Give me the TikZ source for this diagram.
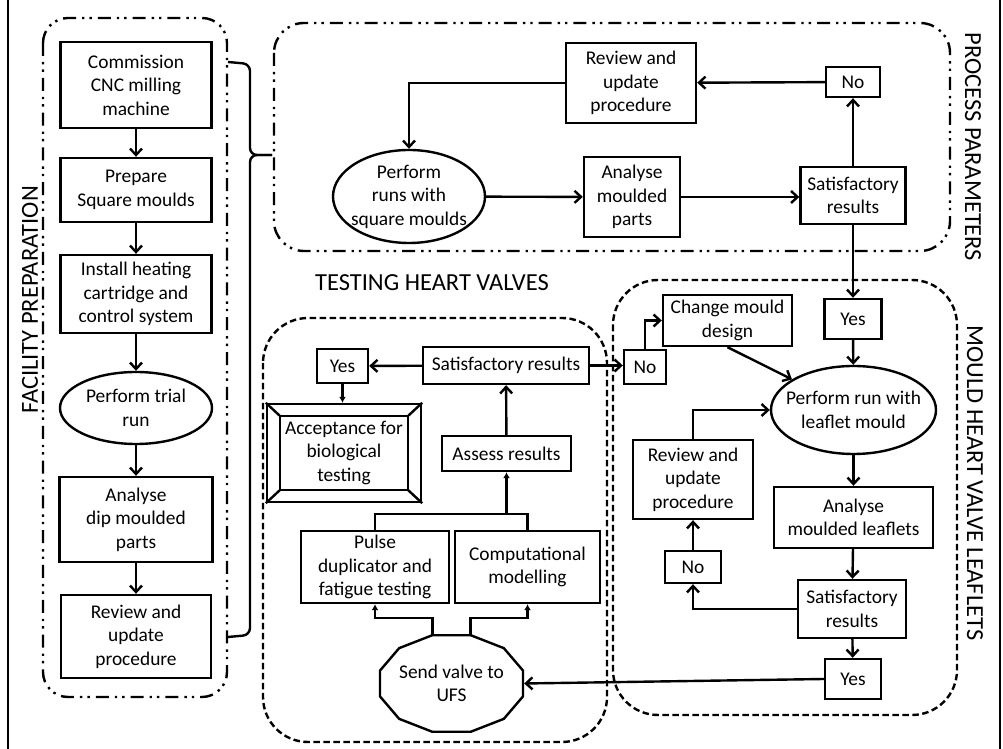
\documentclass[tikz,border=0pt]{standalone}
\usepackage{fontspec}
\setmainfont{Carlito}
\usetikzlibrary{arrows.meta,shapes.geometric,calc}

\begin{document}
\begin{tikzpicture}[>={Straight Barb[length=6.5bp,width=12bp]},line width=2.4bp,
  box/.style={draw,rectangle,align=center,inner sep=0pt,font=\fontsize{19.4bp}{23.5bp}\selectfont},
  oval/.style={draw,ellipse,align=center,inner xsep=-15bp,inner ysep=-10bp,font=\fontsize{19.4bp}{23.5bp}\selectfont},
  side/.style={font=\fontsize{24.5bp}{29bp}\selectfont},
  dotframe/.style={rounded corners=#1,dash pattern=on 13bp off 6bp on 2.4bp off 5bp on 2.4bp off 6bp},
  dashframe/.style={rounded corners=#1,dash pattern=on 6.5bp off 3.5bp},
  tip/.style={-{Latex[length=6bp,width=7bp]}}]

\pgfsetcolor{black}
\useasboundingbox (0bp,0bp) rectangle (1003bp,749bp);

% page rules
\draw (8bp,0bp) -- (8bp,749bp);
\draw (1000bp,0bp) -- (1000bp,749bp);

% Frames
\draw[dotframe=25bp] (43bp,731bp) rectangle (227bp,52bp);
\draw[dotframe=30bp] (274bp,726bp) rectangle (950bp,498bp);
\draw[dashframe=45bp] (263bp,431bp) rectangle (607bp,7bp);
\draw[dashframe=45bp] (613bp,469bp) rectangle (957bp,34bp);

% Brace: facility -> process
\draw[rounded corners=7bp] (228bp,687bp) -- (250bp,685bp) -- (250bp,594bp) -- (272bp,594bp);
\draw[rounded corners=7bp] (272bp,594bp) -- (250bp,594bp) -- (250bp,114bp) -- (228bp,112bp);

% Labels
\node[side,rotate=90] (labfac) at (30bp,449bp) {FACILITY PREPARATION};
\node[side,rotate=-90] (labproc) at (973bp,602bp) {PROCESS PARAMETERS};
\node[side,rotate=-90] (labmould) at (975bp,266bp) {MOULD HEART VALVE LEAFLETS};
\node[side] (labtest) at (432bp,466bp) {TESTING HEART VALVES};

% Node: facility column
\node[box,minimum width=151bp,minimum height=86bp] (comm) at (136bp,664bp) {Commission\\CNC milling\\machine};
\node[box,minimum width=151bp,minimum height=64bp] (prep) at (136bp,559bp) {Prepare\\Square moulds};
\node[box,minimum width=151bp,minimum height=78bp] (inst) at (136bp,455bp) {Install heating\\cartridge and\\control system};
\node[oval,minimum width=152bp,minimum height=72bp] (trial) at (136bp,341bp) {Perform trial\\run};
\node[box,minimum width=153bp,minimum height=85bp] (anal1) at (136bp,229.5bp) {Analyse\\dip moulded\\parts};
\node[box,minimum width=150bp,minimum height=83bp] (rev1) at (136bp,112.5bp) {Review and\\update\\procedure};

% Edge: facility column
\draw[->] (comm) -- (prep);
\draw[->] (prep) -- (inst);
\draw[->] (inst) -- (trial);
\draw[->] (trial) -- (anal1);
\draw[->] (anal1) -- (rev1);

% Node: process parameters
\node[box,minimum width=130bp,minimum height=80bp] (rev2) at (631bp,666bp) {Review and\\update\\procedure};
\node[box,minimum width=54bp,minimum height=30bp] (no1) at (853bp,667bp) {No};
\node[oval,minimum width=152bp,minimum height=93bp] (runs) at (409bp,552.5bp) {Perform\\runs with\\square moulds};
\node[box,minimum width=96bp,minimum height=80bp] (anal2) at (632bp,552bp) {Analyse\\moulded\\parts};
\node[box,minimum width=105bp,minimum height=57bp] (sat1) at (853bp,553.5bp) {Satisfactory\\results};

% Edge: process parameters
\draw[->] (rev2.west) -| (runs.north);
\draw[->] (runs) -- (anal2);
\draw[->] (anal2.east) -- (anal2.east -| sat1.west);
\draw[->] (sat1) -- (no1);
\draw[->] (no1) -- (rev2);

% Node: testing heart valves
\node[box,minimum width=51bp,minimum height=34bp] (yes2) at (342.5bp,383bp) {Yes};
\node[box,minimum width=166bp,minimum height=37bp] (sat2) at (506bp,383.5bp) {Satisfactory results};
\node[box,minimum width=154bp,minimum height=98bp] (acc) at (344bp,296bp) {Acceptance for\\biological\\testing};
\draw ($(acc.north west)+(14bp,-13bp)$) rectangle ($(acc.south east)+(-14bp,13bp)$);
\draw (acc.north west) -- ++(14bp,-13bp);
\draw (acc.north east) -- ++(-14bp,-13bp);
\draw (acc.south west) -- ++(14bp,13bp);
\draw (acc.south east) -- ++(-14bp,13bp);
\node[box,minimum width=129bp,minimum height=35bp] (assess) at (506.5bp,295.5bp) {Assess results};
\node[box,minimum width=148bp,minimum height=72bp] (pulse) at (375bp,182bp) {Pulse\\duplicator and\\fatigue testing};
\node[box,minimum width=145bp,minimum height=72bp] (comp) at (527.5bp,182bp) {Computational\\modelling};
\node[box,draw=none,minimum width=143bp,minimum height=97bp] (send) at (451.5bp,65.5bp) {Send valve to\\UFS};
\draw ($(send.center)+(15:74bp and 50bp)$)
  \foreach \a in {45,75,...,345} { -- ($(send.center)+(\a:74bp and 50bp)$) } -- cycle;

% Edge: testing heart valves
\coordinate (merge) at (506.5bp,235bp);
\coordinate (split) at (451.5bp,131bp);
\coordinate (sendl) at ($(send.center)+(105:74bp and 50bp)$);
\coordinate (sendr) at ($(send.center)+(75:74bp and 50bp)$);
\draw[->] (sat2) -- (yes2);
\draw[tip] (yes2.south) -- (yes2.south |- acc.north);
\draw[->] (assess) -- (sat2);
\draw (pulse.north) |- (merge) -| (comp.north);
\draw[tip] (merge) -- (assess.south);
\draw[tip] (sendl) -- (sendl |- split) -| (pulse.south);
\draw[tip] (sendr) -- (sendr |- split) -| (comp.south);

% Node: mould heart valve leaflets
\node[box,minimum width=57bp,minimum height=40bp] (yes1) at (853bp,430bp) {Yes};
\node[box,minimum width=129bp,minimum height=51bp] (chg) at (727.5bp,428.5bp) {Change mould\\design};
\node[box,minimum width=42bp,minimum height=34bp] (no2) at (645bp,382bp) {No};
\node[oval,minimum width=165bp,minimum height=88bp] (leaf) at (853.5bp,339bp) {Perform run with\\leaflet mould};
\node[box,minimum width=120bp,minimum height=79bp] (rev3) at (693bp,269.5bp) {Review and\\update\\procedure};
\node[box,minimum width=159bp,minimum height=61bp] (anal3) at (853.5bp,231.5bp) {Analyse\\moulded leaflets};
\node[box,minimum width=108bp,minimum height=58bp] (sat3) at (852bp,140bp) {Satisfactory\\results};
\node[box,minimum width=56bp,minimum height=32bp] (no3) at (693bp,182bp) {No};
\node[box,minimum width=56bp,minimum height=40bp] (yes3) at (853bp,70bp) {Yes};

% Edge: mould heart valve leaflets
\draw[->] (sat1) -- (yes1);
\draw[->] (sat2.east) -- (sat2.east -| no2.west);
\draw[->] (no2.north) |- (chg.west);
\draw[->] (chg.south) -- (leaf);
\draw[->] (yes1) -- (leaf);
\draw[->] (rev3.north) |- (leaf.west);
\draw[->] (leaf) -- (anal3);
\draw[->] (anal3) -- (sat3);
\draw[->] (sat3.west) -| (no3.south);
\draw[->] (no3) -- (rev3);
\draw[->] (sat3) -- (yes3);
\draw[->] (yes3.west) -- (send.east);

\end{tikzpicture}
\end{document}
